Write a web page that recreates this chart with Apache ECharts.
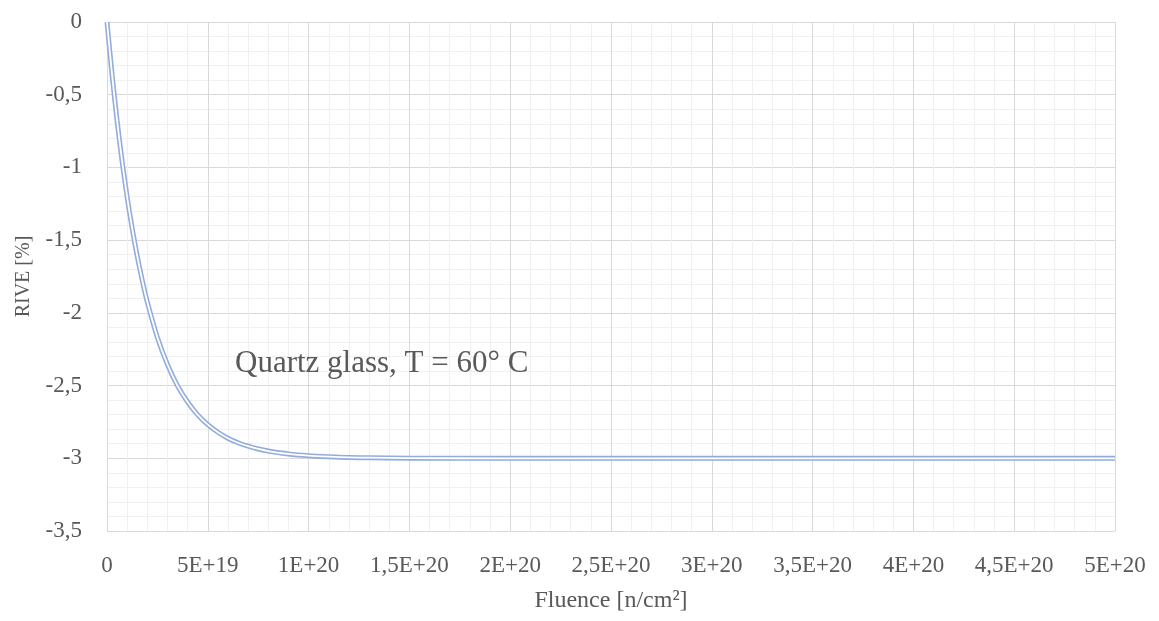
<!DOCTYPE html>
<html>
<head>
<meta charset="utf-8">
<script src="https://cdn.jsdelivr.net/npm/echarts@6/dist/echarts.min.js"></script>
<style>html,body{margin:0;padding:0;background:#fff}#c{width:1159px;height:621px}</style>
</head>
<body>
<div id="c"></div>
<script>
// Fluence in units of 1e19 n/cm²
const fluence = [0, 0.25, 0.5, 0.75, 1, 1.25, 1.5, 1.75, 2, 2.5, 3, 3.5, 4, 4.5, 5, 5.5, 6, 6.5, 7, 7.5, 8, 9, 10, 11, 12, 13, 15, 20, 30, 40, 50];
const rive    = [0, -0.360, -0.678, -0.958, -1.204, -1.420, -1.610, -1.777, -1.926, -2.169, -2.355, -2.502, -2.613, -2.701, -2.769, -2.821, -2.862, -2.893, -2.917, -2.936, -2.950, -2.970, -2.982, -2.989, -2.994, -2.996, -2.999, -3.0, -3.0, -3.0, -3.0];
const xTickLabels = ['0','5E+19','1E+20','1,5E+20','2E+20','2,5E+20','3E+20','3,5E+20','4E+20','4,5E+20','5E+20'];
const yTickLabels = ['0','-0,5','-1','-1,5','-2','-2,5','-3','-3,5'];
const annotation = 'Quartz glass, T = 60° C';

const pts = fluence.map((f, i) => [f, rive[i]]);
const font = '"Liberation Serif", "DejaVu Serif", serif';
const txt = '#595959';

const chart = echarts.init(document.getElementById('c'), null, {renderer: 'canvas'});
chart.setOption({
  animation: false,
  backgroundColor: '#ffffff',
  grid: {left: 107, right: 44, top: 22, bottom: 90, containLabel: false},
  xAxis: {
    type: 'value', min: 0, max: 50, interval: 5,
    name: 'Fluence [n/cm²]', nameLocation: 'middle', nameGap: 58,
    nameTextStyle: {color: txt, fontFamily: font, fontSize: 24},
    axisLine: {show: true, lineStyle: {color: '#d9d9d9', width: 1}},
    axisTick: {show: false},
    axisLabel: {color: txt, fontFamily: font, fontSize: 23, margin: 23,
      formatter: v => xTickLabels[Math.round(v / 5)]},
    splitLine: {show: true, lineStyle: {color: '#d9d9d9', width: 1}},
    minorTick: {show: false, splitNumber: 5},
    minorSplitLine: {show: true, lineStyle: {color: '#f0f0f0', width: 1}}
  },
  yAxis: {
    type: 'value', min: -3.5, max: 0, interval: 0.5,
    name: 'RIVE [%]', nameLocation: 'middle', nameGap: 73, nameRotate: 90,
    nameTextStyle: {color: txt, fontFamily: font, fontSize: 20},
    axisLine: {show: true, lineStyle: {color: '#d9d9d9', width: 1}},
    axisTick: {show: false},
    axisLabel: {color: txt, fontFamily: font, fontSize: 23, margin: 25,
      formatter: v => yTickLabels[Math.round(-v / 0.5)]},
    splitLine: {show: true, lineStyle: {color: '#d9d9d9', width: 1}},
    minorTick: {show: false, splitNumber: 5},
    minorSplitLine: {show: true, lineStyle: {color: '#f0f0f0', width: 1}}
  },
  graphic: [{
    type: 'text', x: 235, y: 364, z: 100,
    style: {text: annotation, fill: txt, fontFamily: font, fontSize: 31, verticalAlign: 'middle', align: 'left'}
  }],
  series: [
    {type: 'line', data: pts, smooth: 0.3, symbol: 'none', clip: true,
     lineStyle: {color: '#93acdc', width: 5}, z: 2},
    {type: 'line', data: pts, smooth: 0.3, symbol: 'none', clip: true,
     lineStyle: {color: '#ffffff', width: 1.8}, z: 3}
  ]
});
</script>
</body>
</html>
